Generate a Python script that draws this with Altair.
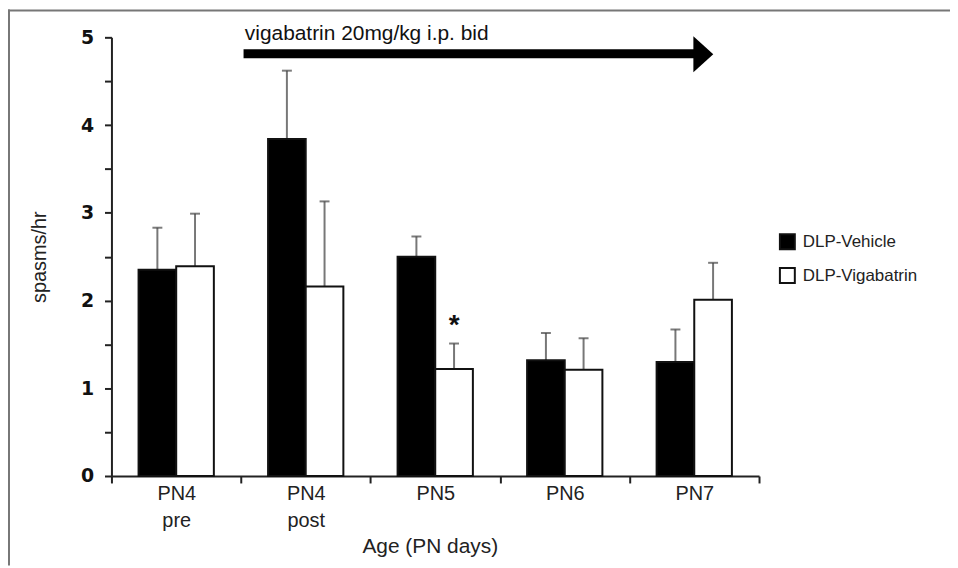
import altair as alt
import pandas as pd

# ---- data ----
categories = ["PN4 pre", "PN4 post", "PN5", "PN6", "PN7"]
groups = ["DLP-Vehicle", "DLP-Vigabatrin"]
vehicle_mean = [2.35, 3.84, 2.50, 1.32, 1.30]
vehicle_sem = [0.48, 0.78, 0.23, 0.31, 0.37]
vigabatrin_mean = [2.39, 2.16, 1.22, 1.21, 2.01]
vigabatrin_sem = [0.60, 0.97, 0.29, 0.36, 0.42]
significance = {"PN5": "*"}  # vigabatrin vs vehicle
y_ticks = [0, 0.5, 1, 1.5, 2, 2.5, 3, 3.5, 4, 4.5, 5]
annotation_text = ["vigabatrin 20mg/kg i.p. bid"]

rows = []
for i, c in enumerate(categories):
    rows.append(dict(cat=c, group=groups[0], mean=vehicle_mean[i], sem=vehicle_sem[i], sig=""))
    rows.append(dict(cat=c, group=groups[1], mean=vigabatrin_mean[i], sem=vigabatrin_sem[i],
                     sig=significance.get(c, "")))
df = pd.DataFrame(rows)

W, H = 651, 441
PAD = {"left": 104, "top": 28, "right": 192, "bottom": 90}
FONT = "Liberation Sans"
INK = "#222"

x_axis = alt.Axis(
    title="Age (PN days)", titleFont=FONT, titleFontSize=21, titleFontWeight="normal",
    titleColor=INK, titleX=320, titleY=77, titleBaseline="alphabetic",
    labelFont=FONT, labelFontSize=20, labelColor=INK, labelAngle=0,
    labelExpr="split(datum.label, ' ')", labelLineHeight=27, labelPadding=1,
    tickBand="extent", tickSize=7, tickWidth=2, tickColor=INK,
    domainColor=INK, domainWidth=2, grid=False,
)
y_axis = alt.Axis(
    values=y_ticks, labelExpr="datum.value % 1 == 0 ? format(datum.value, 'd') : ''",
    labelFont="DejaVu Sans", labelFontWeight="bold", labelFontSize=19, labelColor="#111",
    labelPadding=11, labelOverlap=False, tickSize=7, tickWidth=2, tickColor=INK,
    domainColor=INK, domainWidth=2, grid=False,
    title="spasms/hr", titleFont=FONT, titleFontSize=20, titleFontWeight="normal",
    titleColor=INK, titlePadding=31,
)

x = alt.X("cat:N", sort=categories, scale=alt.Scale(paddingInner=0, paddingOuter=0), axis=x_axis)
xo = alt.XOffset("group:N", sort=groups, scale=alt.Scale(paddingInner=0, paddingOuter=0.72))
yscale = alt.Scale(domain=[0, 5], nice=False)


def ych(field):
    return alt.Y(field, scale=yscale, axis=y_axis, title="spasms/hr")


base = alt.Chart(df).transform_calculate(upper="datum.mean + datum.sem")

err = base.mark_rule(color="#777", strokeWidth=2).encode(
    x=x, xOffset=xo, y=ych("mean:Q"), y2=alt.Y2("upper:Q"))

bars = base.mark_bar(stroke="#111", strokeWidth=2).encode(
    x=x, xOffset=xo, y=ych("mean:Q"),
    fill=alt.Fill("group:N", sort=groups,
                  scale=alt.Scale(domain=groups, range=["#000000", "#ffffff"]),
                  legend=alt.Legend(
                      title=None, orient="none", legendX=671, legendY=197,
                      symbolType="square", symbolSize=225, symbolStrokeColor="#111",
                      symbolStrokeWidth=2, symbolOpacity=1, labelFont=FONT, labelFontSize=17,
                      labelColor=INK, labelOffset=7, rowPadding=11, padding=0)),
)

cap = base.mark_tick(color="#444", thickness=2, size=10).encode(
    x=x, xOffset=xo, y=ych("upper:Q"))

star = base.transform_filter("datum.sig != ''").mark_text(
    font=FONT, fontSize=28, fontWeight="bold", color="#111", baseline="alphabetic",
    align="center", dy=-10
).encode(x=x, xOffset=xo, y=ych("upper:Q"), text="sig:N")

ann_df = pd.DataFrame({"label": annotation_text})
ann = alt.Chart(ann_df)

step = W / len(categories)
arrow_text = ann.mark_text(font=FONT, fontSize=21, color="#111", align="left",
                           baseline="alphabetic").encode(
    text="label:N", x=alt.value(step * 1.03), y=alt.value(3))
arrow_shaft = ann.mark_rule(color="#000", strokeWidth=9, strokeCap="butt").encode(
    x=alt.value(step * 1.02), x2=alt.value(step * 4.52), y=alt.value(16.5))
arrow_head = ann.mark_point(shape="M-0.555,-1L0.555,0L-0.555,1Z", filled=True, size=1296,
                            color="#000", opacity=1, strokeWidth=0).encode(
    x=alt.value(step * 4.57), y=alt.value(17))

frame_left = ann.mark_rule(color="#777", strokeWidth=2).encode(
    x=alt.value(-PAD["left"] + 1), y=alt.value(-PAD["top"]), y2=alt.value(H + PAD["bottom"]))
frame_top = ann.mark_rule(color="#777", strokeWidth=2).encode(
    x=alt.value(-PAD["left"]), x2=alt.value(W + PAD["right"]), y=alt.value(-PAD["top"] + 1))

chart = alt.layer(
    err, bars, cap, star, arrow_text, arrow_shaft, arrow_head, frame_left, frame_top
).properties(
    width=W, height=H,
    autosize=alt.AutoSizeParams(type="none"),
    padding=PAD,
    background="white",
).configure_view(stroke=None)

chart.save("out.html", embed_options={"renderer": "svg", "actions": False})
